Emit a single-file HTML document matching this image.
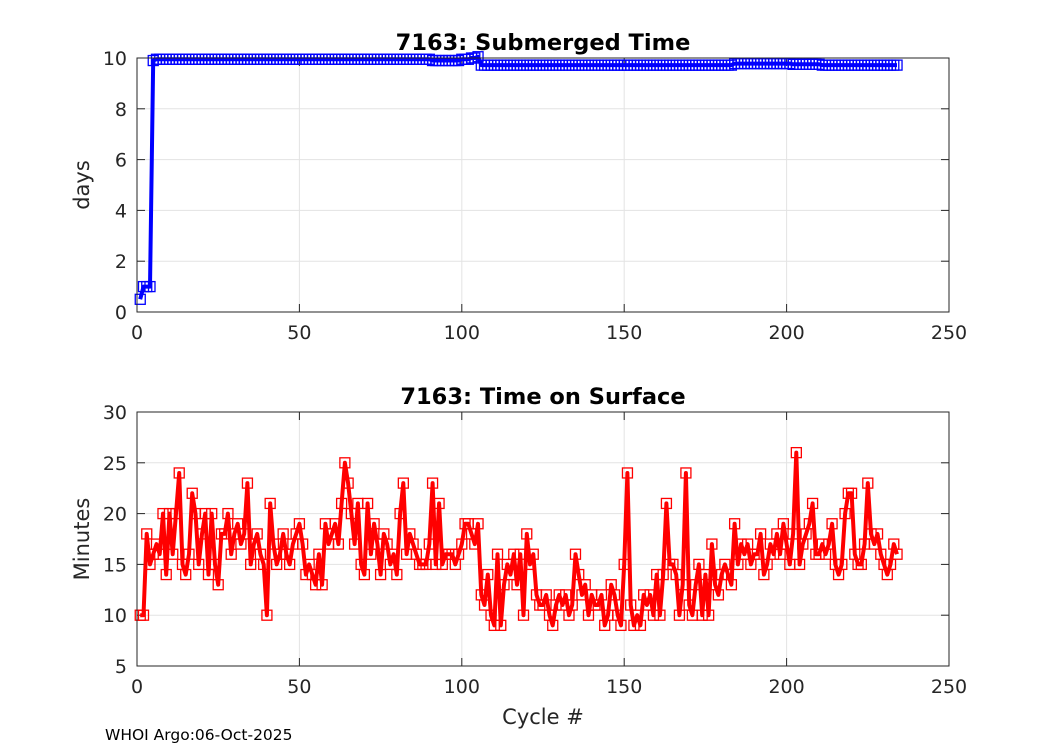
<!DOCTYPE html>
<html><head><meta charset="utf-8"><style>
body{margin:0;background:#fff}
svg{font-family:"DejaVu Sans","Liberation Sans",sans-serif}
</style></head><body>
<svg id="c" width="1050" height="750"></svg>
<script>
const topValues=[0.5,1,1,1,9.9,9.95,9.95,9.95,9.95,9.95,
9.95,9.95,9.95,9.95,9.95,9.95,9.95,9.95,9.95,9.95,
9.95,9.95,9.95,9.95,9.95,9.95,9.95,9.95,9.95,9.95,
9.95,9.95,9.95,9.95,9.95,9.95,9.95,9.95,9.95,9.95,
9.95,9.95,9.95,9.95,9.95,9.95,9.95,9.95,9.95,9.95,
9.95,9.95,9.95,9.95,9.95,9.95,9.95,9.95,9.95,9.95,
9.95,9.95,9.95,9.95,9.95,9.95,9.95,9.95,9.95,9.95,
9.95,9.95,9.95,9.95,9.95,9.95,9.95,9.95,9.95,9.95,
9.95,9.95,9.95,9.95,9.95,9.95,9.95,9.95,9.95,9.95,
9.9,9.9,9.9,9.9,9.9,9.9,9.9,9.9,9.9,9.95,
9.95,9.95,10,10,10.05,9.72,9.72,9.72,9.72,9.72,
9.72,9.72,9.72,9.72,9.72,9.72,9.72,9.72,9.72,9.72,
9.72,9.72,9.72,9.72,9.72,9.72,9.72,9.72,9.72,9.72,
9.72,9.72,9.72,9.72,9.72,9.72,9.72,9.72,9.72,9.72,
9.72,9.72,9.72,9.72,9.72,9.72,9.72,9.72,9.72,9.72,
9.72,9.72,9.72,9.72,9.72,9.72,9.72,9.72,9.72,9.72,
9.72,9.72,9.72,9.72,9.72,9.72,9.72,9.72,9.72,9.72,
9.72,9.72,9.72,9.72,9.72,9.72,9.72,9.72,9.72,9.72,
9.72,9.72,9.72,9.78,9.78,9.78,9.78,9.78,9.78,9.78,
9.78,9.78,9.78,9.78,9.78,9.78,9.78,9.78,9.78,9.78,
9.78,9.75,9.75,9.75,9.75,9.75,9.75,9.75,9.75,9.75,
9.72,9.72,9.72,9.72,9.72,9.72,9.72,9.72,9.72,9.72,
9.72,9.72,9.72,9.72,9.72,9.72,9.72,9.72,9.72,9.72,
9.72,9.72,9.72,9.72];
const surfaceValues=[10,10,18,15,16,17,16,20,14,20,
16,20,24,15,14,16,22,20,15,18,
20,14,20,15,13,18,18,20,16,18,
19,17,18,23,15,17,18,16,15,10,
21,17,15,16,18,16,15,17,18,19,
17,14,15,14,13,16,13,19,17,18,
19,17,21,25,23,20,17,21,15,14,
21,16,19,17,14,18,17,15,16,14,
20,23,16,18,17,16,15,15,15,17,
23,15,21,15,16,16,16,15,16,17,
19,19,18,17,19,12,11,14,10,9,
16,9,13,15,14,16,13,16,10,18,
15,16,12,11,11,12,10,9,11,12,
11,12,10,11,16,14,12,13,10,12,
11,11,12,9,10,13,12,10,9,15,
24,11,9,10,9,12,11,12,10,14,
10,14,21,15,15,14,10,13,24,11,
10,13,15,10,14,10,17,13,12,14,
15,14,13,19,15,17,16,17,15,16,
16,18,14,15,17,16,18,16,19,17,
15,18,26,15,17,18,19,21,16,16,
17,16,17,19,15,14,15,20,22,22,
16,15,15,17,23,18,17,18,16,15,
14,15,17,16];
const xTicks=[0,50,100,150,200,250];
const topYTicks=[0,2,4,6,8,10];
const botYTicks=[5,10,15,20,25,30];

const svg=document.getElementById('c');
const NS='http://www.w3.org/2000/svg';
function mk(tag,attrs,parent){const e=document.createElementNS(NS,tag);for(const k in attrs)e.setAttribute(k,attrs[k]);(parent||svg).appendChild(e);return e;}
const L=137,R=949;
function xs(v){return L+(v/250)*(R-L);}
function panel(top,bot,ymin,ymax,yTicks,vals,color,title,ylabel,name){
  const ys=v=>bot-(v-ymin)/(ymax-ymin)*(bot-top);
  const g=mk('g',{});
  
  
  mk('rect',{x:L,y:top,width:R-L,height:bot-top,fill:'#fff'},g);
  xTicks.forEach(t=>{mk('line',{x1:xs(t),x2:xs(t),y1:top,y2:bot,stroke:'#e3e3e3','stroke-width':1},g);
    const tx=mk('text',{x:xs(t),y:bot+27,'text-anchor':'middle','font-size':19,fill:'#262626'},g);tx.textContent=t;
    });
  yTicks.forEach(t=>{mk('line',{x1:L,x2:R,y1:ys(t),y2:ys(t),stroke:'#e3e3e3','stroke-width':1},g);
    const tx=mk('text',{x:L-10,y:ys(t)+7,'text-anchor':'end','font-size':19,fill:'#262626'},g);tx.textContent=t;
    });
  xTicks.forEach(t=>{mk('line',{x1:xs(t),x2:xs(t),y1:bot,y2:bot-8,stroke:'#262626'},g);mk('line',{x1:xs(t),x2:xs(t),y1:top,y2:top+8,stroke:'#262626'},g);});
  yTicks.forEach(t=>{mk('line',{x1:L,x2:L+8,y1:ys(t),y2:ys(t),stroke:'#262626'},g);mk('line',{x1:R,x2:R-8,y1:ys(t),y2:ys(t),stroke:'#262626'},g);});
  const pts=vals.map((v,i)=>xs(i+1).toFixed(1)+','+ys(v).toFixed(1)).join(' ');
  const pl=mk('polyline',{points:pts,fill:'none',stroke:color,'stroke-width':4,'stroke-linejoin':'round'},g);
  
  vals.forEach((v,i)=>{const m=mk('rect',{x:xs(i+1)-5,y:ys(v)-5,width:10,height:10,fill:'none',stroke:color,'stroke-width':1.3},g);
    });
  mk('rect',{x:L,y:top,width:R-L,height:bot-top,fill:'none',stroke:'#262626','stroke-width':1},g);
  const ti=mk('text',{x:(L+R)/2,y:top-8,'text-anchor':'middle','font-size':22.5,'font-weight':'bold',fill:'#000'},g);ti.textContent=title;
  
  const yl=mk('text',{x:0,y:0,'text-anchor':'middle','font-size':21,fill:'#262626',transform:`translate(89,${(top+bot)/2}) rotate(-90)`},g);yl.textContent=ylabel;
  
}
panel(58,312,0,10,topYTicks,topValues,'#0000ff','7163: Submerged Time','days','submerged-time-panel');
panel(412,666,5,30,botYTicks,surfaceValues,'#ff0000','7163: Time on Surface','Minutes','surface-time-panel');
const xl=mk('text',{x:543,y:724,'text-anchor':'middle','font-size':21,fill:'#262626'});xl.textContent='Cycle #';


const ft=mk('text',{x:105,y:740,'font-size':15.5,fill:'#000'});ft.textContent='WHOI Argo:06-Oct-2025';


</script>
</body></html>
